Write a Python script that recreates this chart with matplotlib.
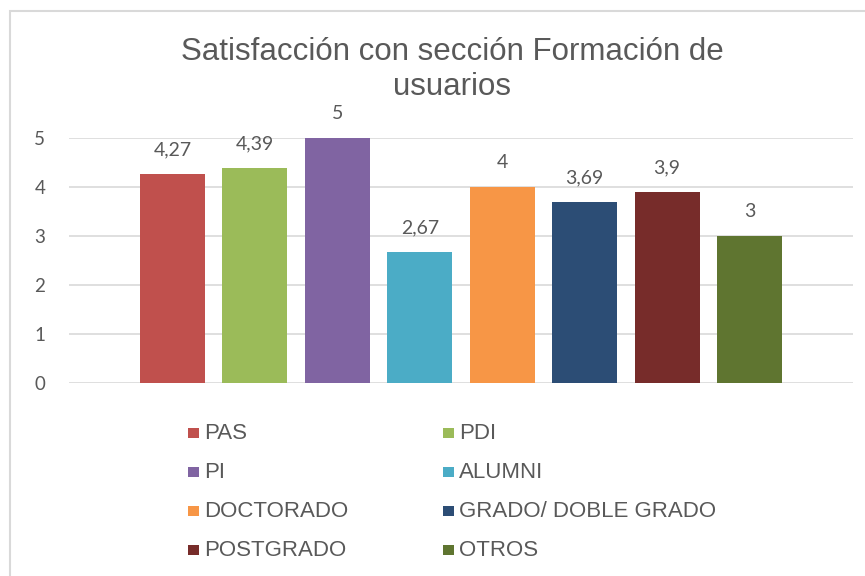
import matplotlib
matplotlib.use("Agg")
import matplotlib.pyplot as plt
from matplotlib.patches import Rectangle

categories = ["PAS", "PDI", "PI", "ALUMNI", "DOCTORADO", "GRADO/ DOBLE GRADO", "POSTGRADO", "OTROS"]
values = [4.27, 4.39, 5, 2.67, 4, 3.69, 3.9, 3]
labels = ["4,27", "4,39", "5", "2,67", "4", "3,69", "3,9", "3"]
colors = ["#C0504D", "#9BBB59", "#8064A2", "#4BACC6", "#F79646", "#2C4D75", "#772C2A", "#5F7530"]
yticks = [0, 1, 2, 3, 4, 5]
title = "Satisfacción con sección Formación de\nusuarios"

W, H = 865, 576
fig = plt.figure(figsize=(W / 100, H / 100), dpi=100)
txtc = "#595959"
numfont = ["Lato", "DejaVu Sans"]
txtfont = ["Liberation Sans", "DejaVu Sans"]

# outer chart border (left and top visible)
fig.add_artist(Rectangle((10 / W, -0.1), 2, 1 - 11 / H + 0.1, transform=fig.transFigure,
                         fill=False, edgecolor="#D9D9D9", linewidth=1.5))

ax = fig.add_axes([69 / W, 1 - 383 / H, (853 - 69) / W, (383 - 138) / H])
x = list(range(len(values)))
ax.bar(x, values, width=0.79, color=colors, zorder=3)
ax.set_xlim(-1.255, 7 + 1.255)
ax.set_ylim(0, 5)
ax.set_yticks(yticks)
ax.set_yticklabels([str(t) for t in yticks], fontsize=13.5, color=txtc, family=numfont)
ax.tick_params(axis="y", length=0, pad=17)
ax.set_xticks([])
for s in ax.spines.values():
    s.set_visible(False)
ax.grid(axis="y", color="#D9D9D9", linewidth=1.2, zorder=0)
ax.set_axisbelow(True)

for xi, v, lab in zip(x, values, labels):
    ax.annotate(lab, (xi, v), xytext=(0, 13.5), textcoords="offset points",
                ha="center", va="baseline", fontsize=14, color=txtc, family=numfont)

fig.text(452 / W, 1 - 60 / H, title.split("\n")[0], ha="center", va="baseline",
         fontsize=22.5, color=txtc, family=txtfont)
fig.text(452 / W, 1 - 95 / H, title.split("\n")[1], ha="center", va="baseline",
         fontsize=22.5, color=txtc, family=txtfont)

# legend
cols = [(188, 204), (443, 459)]
rows = [439, 478, 517, 556]
for i, (cat, c) in enumerate(zip(categories, colors)):
    r, col = divmod(i, 2)
    sx, tx = cols[col]
    yb = rows[r]
    fig.add_artist(Rectangle((sx / W, 1 - (yb - 1) / H), 11 / W, 10.5 / H,
                             transform=fig.transFigure, facecolor=c, edgecolor="none"))
    fig.text(tx / W, 1 - yb / H, cat, ha="left", va="baseline", fontsize=16,
             color=txtc, family=txtfont)

fig.savefig("out.png", dpi=100)
